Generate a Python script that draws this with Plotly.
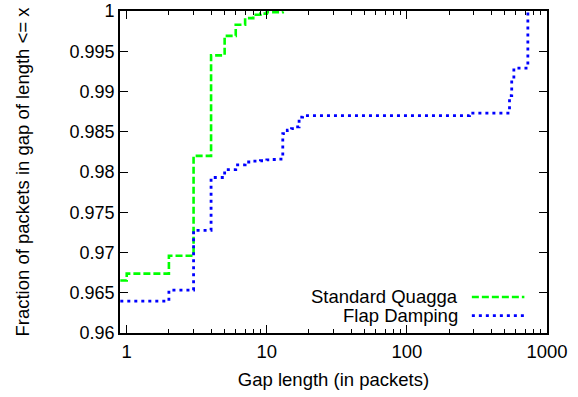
import plotly.graph_objects as go

# ---- data ----
quagga_x = [0.9, 1, 2, 3, 4, 5, 6, 7, 8, 9, 10, 13]
quagga_y = [0.96652, 0.96738, 0.9696, 0.98201, 0.9945, 0.99692, 0.99831, 0.99912,
            0.99955, 0.99968, 0.99985, 0.99995]

damping_x = [0.9, 2, 3, 4, 5, 6, 7, 8, 9, 10, 11, 12, 13, 14, 15, 16, 17, 18, 280,
             540, 560, 580, 730]
damping_y = [0.96397, 0.96532, 0.97276, 0.97932, 0.98031, 0.98089, 0.98125, 0.98135,
             0.98140, 0.98150, 0.98156, 0.98160, 0.98478, 0.98520, 0.98540, 0.98560,
             0.98683, 0.98700, 0.98732, 0.98950, 0.99150, 0.99290, 1.0]

series_names = ["Standard Quagga", "Flap Damping"]

x_tickvals = [1, 10, 100, 1000]
x_ticktext = ["1", "10", "100", "1000"]
x_minor = [2, 3, 4, 5, 6, 7, 8, 9, 20, 30, 40, 50, 60, 70, 80, 90,
           200, 300, 400, 500, 600, 700, 800, 900]
y_tickvals = [0.96, 0.965, 0.97, 0.975, 0.98, 0.985, 0.99, 0.995, 1.0]
y_ticktext = ["0.96", "0.965", "0.97", "0.975", "0.98", "0.985", "0.99", "0.995", "1"]

FONT = "Liberation Sans, Arial, sans-serif"
FS = 18.5

fig = go.Figure()
fig.add_trace(go.Scatter(x=quagga_x, y=quagga_y, mode="lines", line_shape="hv",
                         name=series_names[0],
                         line=dict(color="#00ff00", width=2.6, dash="7px,3px")))
fig.add_trace(go.Scatter(x=damping_x, y=damping_y, mode="lines", line_shape="hv",
                         name=series_names[1],
                         line=dict(color="#0000ff", width=2.8, dash="3px,4px")))

# custom gnuplot-style legend (text then sample on right)
leg_y = [0.112, 0.054]
leg_colors = ["#00ff00", "#0000ff"]
leg_dash = ["7px,3px", "3px,4px"]
leg_w = [2.6, 2.8]
for i in range(2):
    fig.add_annotation(xref="paper", yref="paper", x=0.797, y=leg_y[i],
                       xanchor="right", yanchor="middle", showarrow=False,
                       text=series_names[i], font=dict(family=FONT, size=FS, color="black"))
    fig.add_shape(type="line", xref="paper", yref="paper", x0=0.824, x1=0.947,
                  y0=leg_y[i], y1=leg_y[i],
                  line=dict(color=leg_colors[i], width=leg_w[i], dash=leg_dash[i]))

fig.update_layout(
    width=578, height=397,
    margin=dict(l=120, r=31, t=11, b=64),
    paper_bgcolor="white", plot_bgcolor="white",
    showlegend=False,
    font=dict(family=FONT, size=FS, color="black"),
)
fig.update_xaxes(
    type="log", range=[-0.048, 3.0], automargin=False,
    tickvals=x_tickvals, ticktext=x_ticktext,
    ticks="inside", ticklen=8, tickwidth=1, tickcolor="black",
    minor=dict(tickvals=x_minor, ticks="inside", ticklen=4, tickwidth=1, tickcolor="black", showgrid=False),
    showline=True, linecolor="black", linewidth=1.6, mirror="ticks",
    showgrid=False, zeroline=False, ticklabelstandoff=1, ticklabeloverflow="allow",
    title=dict(text="Gap length (in packets)", font=dict(size=FS), standoff=12),
    tickfont=dict(size=FS),
)
fig.update_yaxes(
    range=[0.96, 1.00001], automargin=False,
    tickvals=y_tickvals, ticktext=y_ticktext,
    ticks="inside", ticklen=8, tickwidth=1, tickcolor="black",
    showline=True, linecolor="black", linewidth=1.6, mirror="ticks",
    showgrid=False, zeroline=False, ticklabeloverflow="allow",
    title=dict(text="Fraction of packets in gap of length <= x", font=dict(size=FS), standoff=35),
    tickfont=dict(size=18),
)

fig.write_html("out.html", config={"displayModeBar": False},
               post_script="document.body.style.margin='0';")
